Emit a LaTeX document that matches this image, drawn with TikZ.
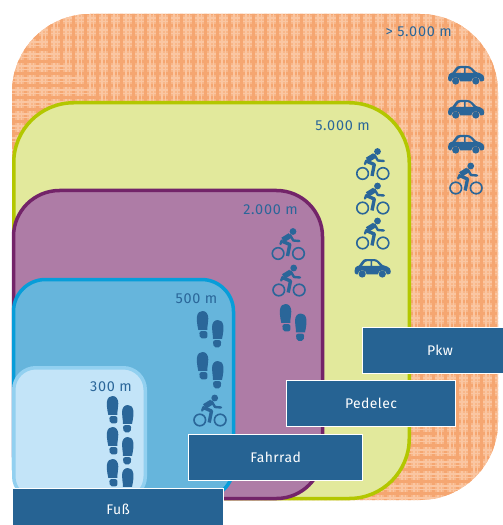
\documentclass[tikz,border=0pt]{standalone}
\usepackage{fontspec}
\setmainfont{Fira Sans}
\definecolor{dkblue}{HTML}{266393}
\definecolor{iconblue}{HTML}{2A6699}
\definecolor{patbase}{HTML}{F8B688}
\definecolor{patpale}{HTML}{FAC6A2}
\definecolor{patband}{HTML}{F5A671}
\definecolor{grfill}{HTML}{E2E99C}
\definecolor{grline}{HTML}{B3C700}
\definecolor{pufill}{HTML}{AE7CA6}
\definecolor{puline}{HTML}{732469}
\definecolor{blfill}{HTML}{66B5DC}
\definecolor{blline}{HTML}{079DD9}
\definecolor{ltfill}{HTML}{C3E4F8}
\definecolor{ltline}{HTML}{92D0F0}
\tikzset{
  x=1bp,y=-1bp,
  zone/.style={line width=3.5bp},
  distlabel/.style={anchor=base east,inner sep=0pt,text=iconblue,font=\fontsize{14.5}{15}\selectfont\addfontfeature{LetterSpace=5}},
  modebox/.style={draw=white,line width=1.2bp,fill=dkblue,text=white,font=\fontsize{14}{15}\selectfont\addfontfeature{LetterSpace=3},inner sep=0pt,anchor=north west},
  pics/car/.style={code={
    \fill[iconblue,even odd rule]
      (0,12) .. controls (0,9) and (1,7.5) .. (4.5,6.5) -- (8,1.8) .. controls (9,0.5) and (10,0) .. (12,0)
      -- (19,0) .. controls (21,0) and (22.5,0.5) .. (24,2) -- (28,6) -- (32.5,7.5) .. controls (35,8.2) and (36.3,10) .. (36.3,12.5)
      .. controls (36.3,14.5) and (35.5,15.3) .. (34,15.3) -- (32.3,15.3) .. controls (32.3,10) and (23.3,10) .. (23.3,15.3)
      -- (12.2,15.3) .. controls (12.2,10) and (3.2,10) .. (3.2,15.3) -- (2,15.3) .. controls (0.5,15.3) and (0,14) .. (0,12) -- cycle
      (7.5,6.8) -- (10.5,3) .. controls (11,2.4) and (11.5,2.2) .. (12.5,2.2) -- (16,2.2) -- (16,6.8) -- cycle
      (17.6,2.2) -- (20,2.2) .. controls (21,2.2) and (21.7,2.5) .. (22.3,3.1) -- (25.5,6.8) -- (17.6,6.8) -- cycle;
    \fill[iconblue] (7.7,15) circle[radius=3.6] (27.8,15) circle[radius=3.6];
  }},
  pics/bike/.style={code={
    \draw[iconblue,line width=1.6bp] (-10.2,0) circle[radius=5.8] (10.2,0) circle[radius=5.8];
    \fill[iconblue] (4.7,-22) circle[radius=3.4];
    \draw[iconblue,line width=5.4bp,line join=round] (-5.5,-13.5) -- (1.8,-18);
    \draw[iconblue,line width=2.4bp,line cap=round,line join=round] (1.8,-18.5) -- (5,-13) -- (11,-12.5);
    \draw[iconblue,line width=3.4bp,line join=round] (-6,-12.2) -- (1.5,-9) -- (-0.8,2.5);
    \draw[iconblue,line width=2.4bp,line cap=round] (-6.5,-13) -- (-7.8,-9.5);
  }},
  pics/shoe/.style={code={
    \fill[iconblue] (1.3,18.8) .. controls (0,13) and (-0.4,9) .. (0,5.5) .. controls (0.5,1.5) and (3,0) .. (5.5,0)
      .. controls (9.2,0) and (11.3,3) .. (11.3,7.5) .. controls (11.3,11.5) and (10.3,14.5) .. (10.3,18.8) -- cycle;
    \fill[iconblue,rounded corners=2bp] (2.3,20.2) -- (10.4,20.2) -- (10.4,27.3) -- (2.8,27.3) -- cycle;
  }},
  pics/shoer/.style={code={
    \fill[iconblue] (10,18.8) .. controls (11.3,13) and (11.7,9) .. (11.3,5.5) .. controls (10.8,1.5) and (8.3,0) .. (5.8,0)
      .. controls (2.1,0) and (0,3) .. (0,7.5) .. controls (0,11.5) and (1,14.5) .. (1,18.8) -- cycle;
    \fill[iconblue,rounded corners=2bp] (1,20.2) -- (9.2,20.2) -- (8.7,27.3) -- (1.5,27.3) -- cycle;
  }},
}
\begin{document}
\begin{tikzpicture}
\useasboundingbox (0,0) rectangle (503,525);
% orange patterned zone
\begin{scope}
  \clip[rounded corners=78bp] (12,14) rectangle (498,500);
  \fill[patbase] (0,0) rectangle (503,525);
  \foreach \i in {0,...,43} {
    \pgfmathsetmacro{\p}{12*\i}
    \fill[patband] (\p,0) rectangle (\p+3,525);
    \fill[patband] (0,\p) rectangle (503,\p+3);
    \fill[patpale] (\p+5,0) rectangle (\p+7,525);
    \fill[patpale] (0,\p+5) rectangle (503,\p+7);
    \fill[patpale] (\p+9,0) rectangle (\p+10,525);
    \fill[patpale] (0,\p+9) rectangle (503,\p+10);
  }
\end{scope}
% nested zones
\path[zone,draw=grline,fill=grfill,rounded corners=60bp] (13.75,102.75) rectangle (409.25,498.5);
\path[zone,draw=puline,fill=pufill,rounded corners=46bp] (13.5,190.5) rectangle (322.5,498.5);
\path[zone,draw=blline,fill=blfill,rounded corners=32bp] (13.5,279.5) rectangle (233.5,498.5);
\path[zone,draw=ltline,fill=ltfill,rounded corners=22bp] (13.75,367.75) rectangle (145.25,498.5);
% distance labels
\node[distlabel] (l1) at (452,37) {> 5.000 m};
\node[distlabel] (l2) at (370,131) {5.000 m};
\node[distlabel] (l3) at (298,214) {2.000 m};
\node[distlabel] (l4) at (217.5,303) {500 m};
\node[distlabel] (l5) at (132,391) {300 m};
% cars
\pic at (448,66) {car};
\pic at (448,100) {car};
\pic at (448,135) {car};
\pic at (354.5,259) {car};
% bikes
\pic at (466,188) {bike};
\pic at (372.8,173.5) {bike};
\pic at (372.8,208) {bike};
\pic at (372.8,243) {bike};
\pic at (288.3,253.5) {bike};
\pic at (289,290) {bike};
\pic at (210,420) {bike};
% shoes
\pic at (280,304) {shoe}; \pic at (295,313.5) {shoer};
\pic at (197,311) {shoe}; \pic at (212,320) {shoer};
\pic at (197,352) {shoe}; \pic at (212,361) {shoer};
\pic at (107,396) {shoe}; \pic at (122,405) {shoer};
\pic at (107,427) {shoe}; \pic at (122,437) {shoer};
\pic at (107,459) {shoe}; \pic at (122,468) {shoer};
% mode boxes
\node[modebox,minimum width=141bp,minimum height=46bp] (pkw) at (362,327) {\hspace{14pt}Pkw};
\node[modebox,minimum width=169bp,minimum height=46bp] (ped) at (286,380) {Pedelec};
\node[modebox,minimum width=174bp,minimum height=46bp] (fah) at (188,434) {Fahrrad};
\node[modebox,minimum width=211bp,minimum height=38bp] (fus) at (12,487.5) {\rule{0pt}{16pt}Fuß};
\end{tikzpicture}
\end{document}
